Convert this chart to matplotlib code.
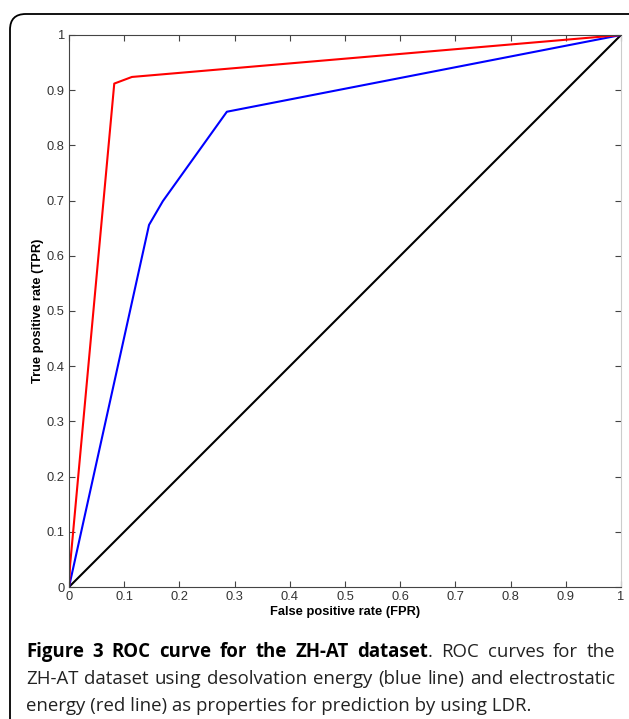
import matplotlib
matplotlib.use("Agg")
import matplotlib.pyplot as plt
from matplotlib.patches import FancyBboxPatch

# ROC points
fpr_ele = [0.0, 0.002, 0.082, 0.114, 1.0]
tpr_ele = [0.0, 0.04, 0.912, 0.924, 1.0]
fpr_des = [0.0, 0.145, 0.170, 0.286, 1.0]
tpr_des = [0.0, 0.656, 0.699, 0.861, 1.0]
diag = [0.0, 1.0]
ticks = [0, 0.1, 0.2, 0.3, 0.4, 0.5, 0.6, 0.7, 0.8, 0.9, 1]
tick_labels = ["0", "0.1", "0.2", "0.3", "0.4", "0.5", "0.6", "0.7", "0.8", "0.9", "1"]

caption_bold = "Figure 3 ROC curve for the ZH-AT dataset"
caption_rest = [". ROC curves for the",
                "ZH-AT dataset using desolvation energy (blue line) and electrostatic",
                "energy (red line) as properties for prediction by using LDR."]

W, H = 629, 719
fig = plt.figure(figsize=(W / 100, H / 100), dpi=100)

# rounded frame round the figure
box = FancyBboxPatch((10 / W, -0.1), 640 / W, (H - 14) / H + 0.1,
                     boxstyle="round,pad=0,rounding_size=0.025",
                     transform=fig.transFigure, fill=False, ec="black", lw=1.3,
                     mutation_aspect=W / H)
fig.patches.append(box)

ax = fig.add_axes([69 / W, 132 / H, 552 / W, 552 / H])
ax.plot(diag, diag, color="black", lw=1.5)
ax.plot(fpr_des, tpr_des, color="blue", lw=1.5)
ax.plot(fpr_ele, tpr_ele, color="red", lw=1.5)
ax.set_xlim(0, 1)
ax.set_ylim(0, 1)
ax.set_xticks(ticks)
ax.set_xticklabels(tick_labels)
ax.set_yticks(ticks)
ax.set_yticklabels(tick_labels)
ax.tick_params(direction="in", length=4, width=0.8, top=True, right=True,
               labelsize=9.3, labelcolor="#333333", color="#444444", pad=3)
for t in ax.get_xticklabels() + ax.get_yticklabels():
    t.set_family("Liberation Sans")
for s in ["left", "bottom", "top"]:
    ax.spines[s].set_color("#444444")
ax.spines["right"].set_color("#cccccc")
ax.set_xlabel("False positive rate (FPR)", family="Liberation Sans",
              weight="bold", fontsize=9.3, labelpad=2)
ax.set_ylabel("True positive rate (TPR)", family="Liberation Sans",
              weight="bold", fontsize=9.3, labelpad=2)

# caption, justified like the journal layout
renderer = fig.canvas.get_renderer()
cap_font = "Open Sans"
x0, x1 = 26, 615


def text_width(s, size, weight="normal"):
    t = fig.text(0, 0, s, family=cap_font, fontsize=size, weight=weight)
    w = t.get_window_extent(renderer).width
    t.remove()
    return w


# pick the size so the last (unjustified) line is as long as in the picture
cap_size = 10 * 505 / text_width(caption_rest[2], 10)


def draw_justified(pieces, y):
    # pieces: list of (word, weight, space_before)
    widths = [text_width(w, cap_size, wt) for w, wt, _ in pieces]
    n_gaps = sum(1 for _, _, sp in pieces if sp)
    gap = (x1 - x0 - sum(widths)) / n_gaps
    x = x0
    for (w, wt, sp), ww in zip(pieces, widths):
        if sp:
            x += gap
        fig.text(x / W, 1 - y / H, w, family=cap_font, fontsize=cap_size,
                 weight=wt, va="baseline", color="black" if wt == "bold" else "#222222")
        x += ww


line1 = [(w, "bold", i > 0) for i, w in enumerate(caption_bold.split())]
line1.append((".", "normal", False))
line1 += [(w, "normal", True) for w in caption_rest[0][1:].split()]
draw_justified(line1, 657)
draw_justified([(w, "normal", i > 0) for i, w in enumerate(caption_rest[1].split())], 684)
fig.text(x0 / W, 1 - 711 / H, caption_rest[2], family=cap_font, fontsize=cap_size,
         va="baseline", color="#222222")

fig.savefig("out.png", dpi=100)
